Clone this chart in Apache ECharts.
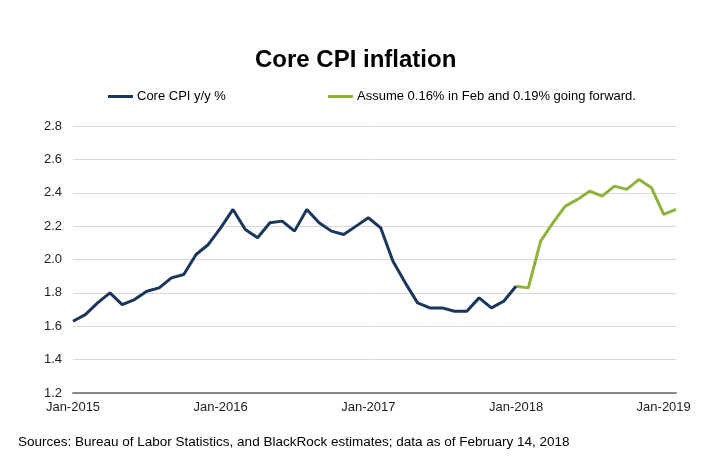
<!DOCTYPE html>
<html>
<head>
  <meta charset="UTF-8">
  <title>Core CPI inflation</title>
  <script src="https://cdn.jsdelivr.net/npm/echarts@6/dist/echarts.min.js"></script>
  <style>
    html, body { margin: 0; padding: 0; background: #fff; }
    #main { width: 727px; height: 456px; }
  </style>
</head>
<body>
<div id="main"></div>
<script>
  // month labels Jan-2015 .. Feb-2019
  var monthNames = ['Jan', 'Feb', 'Mar', 'Apr', 'May', 'Jun', 'Jul', 'Aug', 'Sep', 'Oct', 'Nov', 'Dec'];
  var years = [2015, 2016, 2017, 2018, 2019];
  var lastMonthCount = 2; // months shown in the final year

  // Core CPI y/y %, Jan-2015 .. Jan-2018
  var coreCpi = [
    1.63, 1.67, 1.74, 1.80, 1.73, 1.76, 1.81, 1.83, 1.89, 1.91, 2.03, 2.09,
    2.19, 2.30, 2.18, 2.13, 2.22, 2.23, 2.17, 2.30, 2.22, 2.17, 2.15, 2.20,
    2.25, 2.19, 1.99, 1.86, 1.74, 1.71, 1.71, 1.69, 1.69, 1.77, 1.71, 1.75,
    1.84
  ];
  // projection, Jan-2018 .. Feb-2019
  var projection = [1.84, 1.83, 2.11, 2.22, 2.32, 2.36, 2.41, 2.38, 2.44, 2.42, 2.48, 2.43, 2.27, 2.30];
  var projectionStart = 36;

  var yTicks = { min: 1.2, max: 2.8, step: 0.2 };

  var categories = [];
  years.forEach(function (y, i) {
    var n = i === years.length - 1 ? lastMonthCount : 12;
    for (var m = 0; m < n; m++) categories.push(monthNames[m] + '-' + y);
  });

  var blueData = coreCpi.slice();
  while (blueData.length < categories.length) blueData.push(null);
  var greenData = [];
  for (var i = 0; i < projectionStart; i++) greenData.push(null);
  greenData = greenData.concat(projection);

  var font = "'Liberation Sans', Arial, sans-serif";
  var blue = '#1b365d';
  var green = '#8db33a';

  var option = {
    backgroundColor: '#fff',
    animation: false,
    textStyle: { fontFamily: font },
    title: {
      text: 'Core CPI inflation',
      left: 250,
      top: 43,
      textStyle: { fontSize: 24, fontWeight: 'bold', color: '#000', fontFamily: font }
    },
    legend: [{
      data: ['Core CPI y/y %'],
      left: 103,
      top: 85,
      icon: 'rect',
      itemWidth: 25,
      itemHeight: 3,
      itemGap: 4,
      textStyle: { fontSize: 13, color: '#000', fontFamily: font, padding: [0, 0, 0, -1] }
    }, {
      data: ['Assume 0.16% in Feb and 0.19% going forward.'],
      left: 323,
      top: 85,
      icon: 'rect',
      itemWidth: 25,
      itemHeight: 3,
      textStyle: { fontSize: 13, color: '#000', fontFamily: font, padding: [0, 0, 0, -1] }
    }],
    grid: { left: 73, right: 51, top: 126, bottom: 63 },
    xAxis: {
      type: 'category',
      data: categories,
      boundaryGap: false,
      axisLine: { lineStyle: { color: '#888', width: 2 } },
      axisTick: { show: false },
      axisLabel: { interval: 11, color: '#222', fontSize: 13, margin: 8, fontFamily: font }
    },
    yAxis: {
      type: 'value',
      min: yTicks.min,
      max: yTicks.max,
      interval: yTicks.step,
      axisLine: { show: false },
      axisTick: { show: false },
      axisLabel: {
        color: '#222', fontSize: 13, margin: 11, fontFamily: font,
        formatter: function (v) { return v.toFixed(1); }
      },
      splitLine: { lineStyle: { color: '#d9d9d9', width: 1 } }
    },
    series: [{
      name: 'Core CPI y/y %',
      type: 'line',
      data: blueData,
      showSymbol: false,
      symbol: 'none',
      color: blue,
      lineStyle: { color: blue, width: 3 },
      z: 3
    }, {
      name: 'Assume 0.16% in Feb and 0.19% going forward.',
      type: 'line',
      data: greenData,
      showSymbol: false,
      symbol: 'none',
      color: green,
      lineStyle: { color: green, width: 3 },
      z: 2
    }],
    graphic: [{
      type: 'text',
      left: 18,
      top: 435,
      style: {
        text: 'Sources: Bureau of Labor Statistics, and BlackRock estimates; data as of February 14, 2018',
        fontSize: 13.5,
        fill: '#000',
        fontFamily: font
      }
    }]
  };

  echarts.init(document.getElementById('main')).setOption(option);
</script>
</body>
</html>
